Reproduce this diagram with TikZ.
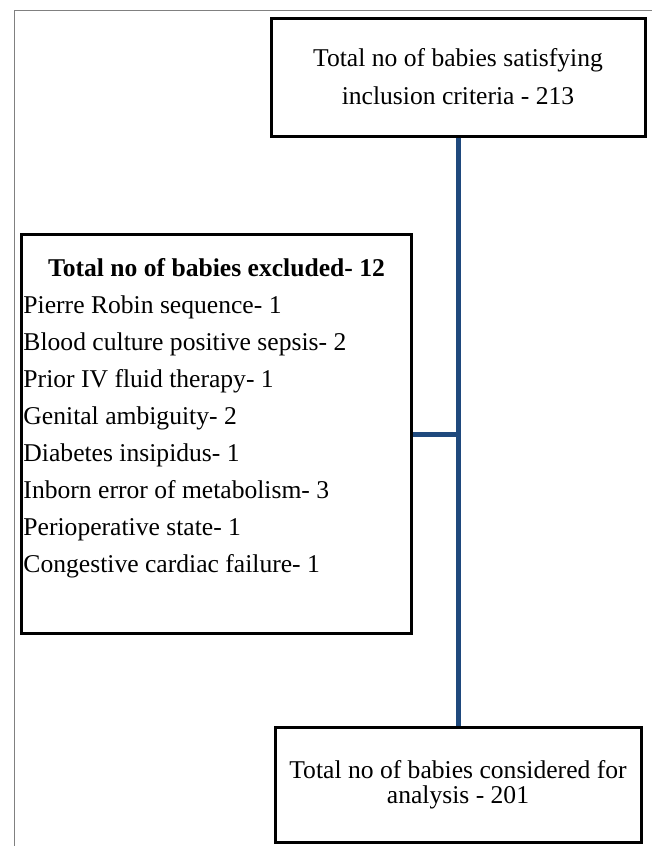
\documentclass[tikz,border=0pt]{standalone}
\usepackage{fontspec}
\setmainfont{Liberation Serif}
\usetikzlibrary{positioning}
\definecolor{flowblue}{RGB}{31,73,125}

\begin{document}
\begin{tikzpicture}[x=0.5pt, y=-0.5pt,
  box/.style={draw, line width=1.5pt, inner sep=1pt, align=center, font=\fontsize{12.8}{19}\selectfont},
  link/.style={draw=flowblue, line width=2.5pt}]
\useasboundingbox (0,0) rectangle (652,846);
\draw[gray, line width=0.5pt] (14,846) -- (14,10) -- (652,10);

\node[box, minimum width=187pt, minimum height=59pt] (incl) at (458,77) {Total no of babies satisfying\\inclusion criteria - 213};
\node[box, anchor=north west, text width=193pt, minimum height=199.5pt, align=flush left, font=\fontsize{12.8}{18.5}\selectfont] (excl) at (20,233) {\makebox[193pt][c]{\textbf{Total no of babies excluded- 12}}\\
Pierre Robin sequence- 1\\
Blood culture positive sepsis- 2\\
Prior IV fluid therapy- 1\\
Genital ambiguity- 2\\
Diabetes insipidus- 1\\
Inborn error of metabolism- 3\\
Perioperative state- 1\\
Congestive cardiac failure- 1\\
\mbox{}};
\node[box, minimum width=183pt, minimum height=57.5pt, font=\fontsize{12.8}{12.5}\selectfont] (anal) at (458,784.5) {Total no of babies considered for\\analysis - 201};

\coordinate (split) at (incl.south |- excl.east);
\draw[link] (incl) -- (anal);
\draw[link] (excl.east) -- (split);
\end{tikzpicture}
\end{document}
